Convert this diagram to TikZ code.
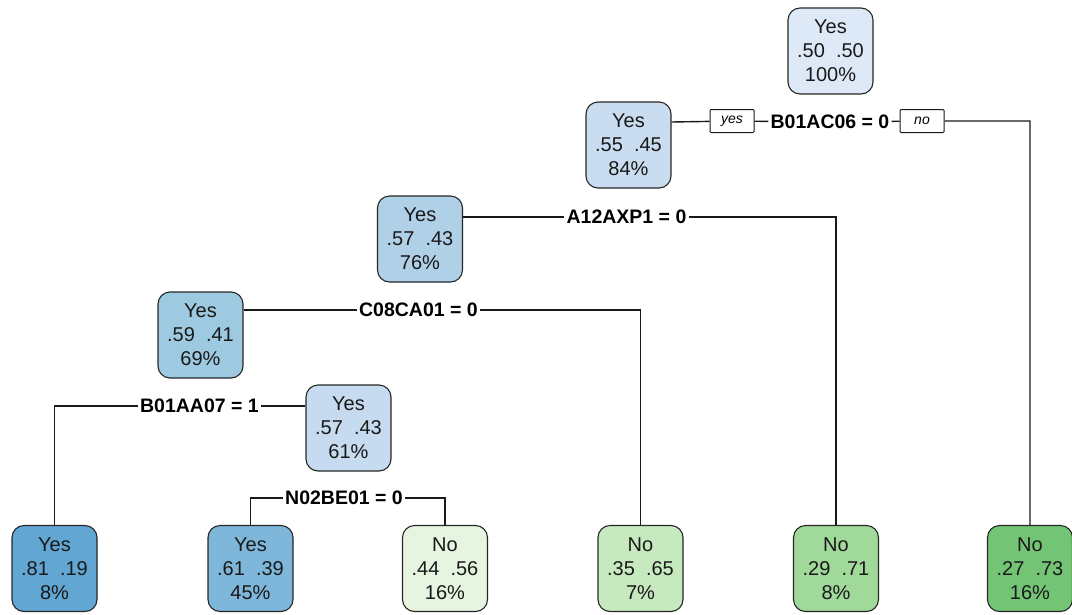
\documentclass[tikz,border=0pt]{standalone}
\usepackage{fontspec}
\setmainfont{Liberation Sans}
\usetikzlibrary{positioning}

% node fills, light to dark
\definecolor{blueA}{HTML}{DDE9F6}
\definecolor{blueB}{HTML}{CADDF0}
\definecolor{blueC}{HTML}{C6DBEF}
\definecolor{blueD}{HTML}{B0D0E8}
\definecolor{blueE}{HTML}{9ECAE1}
\definecolor{blueF}{HTML}{7FB7DB}
\definecolor{blueG}{HTML}{62A6D3}
\definecolor{greenA}{HTML}{E5F5E0}
\definecolor{greenB}{HTML}{C7E9C0}
\definecolor{greenC}{HTML}{A1D99B}
\definecolor{greenD}{HTML}{74C476}

\begin{document}
\begin{tikzpicture}[
  x=1pt, y=-1pt,
  box/.style={draw=black!85, line width=1.1pt, rounded corners=12pt, minimum width=85pt, minimum height=86pt, inner sep=1pt, align=center, text=black!90, font=\fontsize{20}{24}\selectfont},
  split/.style={fill=white, inner sep=2pt, text=black, font=\fontsize{19.5}{22}\selectfont\bfseries},
  tag/.style={draw=black!90, line width=1pt, fill=white, rounded corners=1pt, minimum width=44pt, minimum height=23pt, inner sep=1pt, font=\fontsize{14}{16}\selectfont\itshape},
  link/.style={line width=1.4pt, black!90}
]
\useasboundingbox (0,0) rectangle (1072,614);

% inner nodes
\node[box, fill=blueA] (root) at (830.5,51) {Yes\\.50\ \ .50\\100\%};
\node[box, fill=blueB] (n84) at (628.5,145) {Yes\\.55\ \ .45\\84\%};
\node[box, fill=blueD] (n76) at (420,239) {Yes\\.57\ \ .43\\76\%};
\node[box, fill=blueE] (n69) at (200.5,335) {Yes\\.59\ \ .41\\69\%};
\node[box, fill=blueC] (n61) at (348.5,428) {Yes\\.57\ \ .43\\61\%};

% leaves
\node[box, fill=blueG] (l1) at (54.5,568.5) {Yes\\.81\ \ .19\\8\%};
\node[box, fill=blueF] (l2) at (250.5,568.5) {Yes\\.61\ \ .39\\45\%};
\node[box, fill=greenA] (l3) at (445,568.5) {No\\.44\ \ .56\\16\%};
\node[box, fill=greenB] (l4) at (640.5,568.5) {No\\.35\ \ .65\\7\%};
\node[box, fill=greenC] (l5) at (836,568.5) {No\\.29\ \ .71\\8\%};
\node[box, fill=greenD] (l6) at (1030,568.5) {No\\.27\ \ .73\\16\%};

% splits
\node[split] (s1) at (830,122) {B01AC06 = 0};
\node[tag] (yes1) at (732,121) {yes};
\node[tag] (no1) at (922,121) {no};
\node[split] (s2) at (626.5,217) {A12AXP1 = 0};
\node[split] (s3) at (418.5,310) {C08CA01 = 0};
\node[split] (s4) at (199.5,406) {B01AA07 = 1};
\node[split] (s5) at (344,498) {N02BE01 = 0};

\draw[link] (n84.east |- s1) -- (yes1) -- (s1) -- (no1) -| (l6);
\draw[link] (n76.east |- s2) -- (s2) -| (l5);
\draw[link] (n69.east |- s3) -- (s3) -| (l4);
\draw[link] (n61.west |- s4) -- (s4) -| (l1);
\draw[link] (l2) |- (s5) -| (l3);
\end{tikzpicture}
\end{document}
